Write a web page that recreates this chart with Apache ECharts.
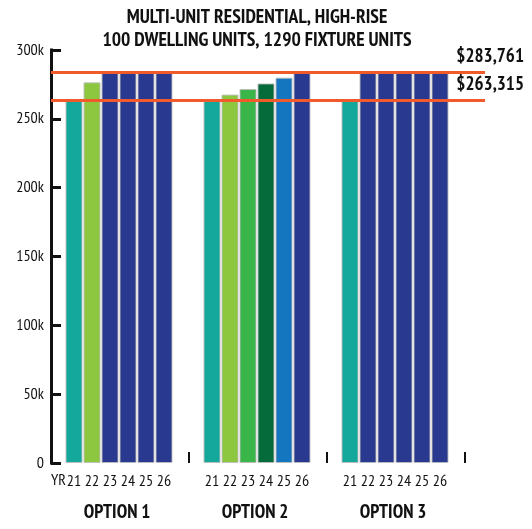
<!DOCTYPE html>
<html>
<head>
<meta charset="utf-8">
<script src="https://cdn.jsdelivr.net/npm/echarts@6/dist/echarts.min.js"></script>
<style>
  html, body { margin: 0; padding: 0; background: #ffffff; }
  #chart { width: 532px; height: 529px; }
</style>
</head>
<body>
<div id="chart"></div>
<script>
// Plan years shown under every option
const years = ['21', '22', '23', '24', '25', '26'];
const optionNames = ['OPTION 1', 'OPTION 2', 'OPTION 3'];

// Annual cost per option
const option1Values = [263315, 276500, 283761, 283761, 283761, 283761];
const option2Values = [263315, 267600, 271700, 275700, 279900, 283761];
const option3Values = [263315, 283761, 283761, 283761, 283761, 283761];

// Reference levels drawn across the chart
const upperLevel = 283761;
const lowerLevel = 263315;

// Y axis tick labels (0 .. 300k in 50k steps)
const yTickLabels = ['0', '50k', '100k', '150k', '200k', '250k', '300k'];

// Bar colours for each option, by year
const palette = {
  teal: '#14A89C',
  lime: '#8DC63F',
  green: '#3AB54A',
  forest: '#066B3A',
  blue: '#1376BF',
  navy: '#28398F'
};
const option1Colors = ['teal', 'lime', 'navy', 'navy', 'navy', 'navy'];
const option2Colors = ['teal', 'lime', 'green', 'forest', 'blue', 'navy'];
const option3Colors = ['teal', 'navy', 'navy', 'navy', 'navy', 'navy'];

const FONT = "'PT Sans Narrow', 'Roboto Condensed', 'Open Sans Condensed', sans-serif";
const INK = '#111111';

const groups = [
  { values: option1Values, colors: option1Colors },
  { values: option2Values, colors: option2Colors },
  { values: option3Values, colors: option3Colors }
];

const GROUP_PITCH = 138;  // px between option groups
const PLOT_TOP = 50;
const PLOT_HEIGHT = 413;
const FRAME_LEFT = 51;
const FRAME_WIDTH = 434;
const GROUP_LEFT = 65;
const GROUP_WIDTH = 108;

const money = v => '$' + Math.round(v).toLocaleString('en-US');

const grids = [{ left: FRAME_LEFT, top: PLOT_TOP, width: FRAME_WIDTH, height: PLOT_HEIGHT }];
const xAxes = [{
  gridIndex: 0,
  type: 'value',
  min: 0,
  max: FRAME_WIDTH / GROUP_PITCH,
  axisLine: { show: false },
  splitLine: { show: false },
  axisLabel: { show: false },
  axisTick: {
    show: true,
    inside: true,
    length: 11,
    customValues: [1, 2, 3],
    lineStyle: { width: 2, color: INK }
  }
}];
const yAxes = [{
  gridIndex: 0,
  type: 'value',
  min: 0,
  max: 300000,
  interval: 50000,
  axisLine: { show: true, lineStyle: { width: 3, color: INK, cap: 'square' } },
  axisTick: { show: true, inside: true, length: 10, lineStyle: { width: 3, color: INK } },
  splitLine: { show: false },
  axisLabel: {
    margin: 7,
    fontSize: 16,
    fontFamily: FONT,
    color: INK,
    formatter: (v, i) => yTickLabels[i]
  }
}];

const series = [{
  type: 'line',
  xAxisIndex: 0,
  yAxisIndex: 0,
  data: [],
  silent: true,
  markLine: {
    silent: true,
    symbol: 'none',
    animation: false,
    lineStyle: { color: '#F15A2B', width: 3, type: 'solid' },
    label: {
      show: true,
      position: 'insideEndTop',
      distance: [-39, 6],
      formatter: p => money(p.value),
      fontFamily: FONT,
      fontWeight: 'bold',
      fontSize: 19,
      color: INK
    },
    data: [{ yAxis: upperLevel }, { yAxis: lowerLevel }]
  }
}];

groups.forEach((g, i) => {
  const idx = i + 1;
  grids.push({ left: GROUP_LEFT + i * GROUP_PITCH, top: PLOT_TOP, width: GROUP_WIDTH, height: PLOT_HEIGHT });
  xAxes.push({
    gridIndex: idx,
    type: 'category',
    data: years,
    axisLine: { show: false },
    axisTick: { show: false },
    axisLabel: { interval: 0, margin: 10, fontSize: 16, fontFamily: FONT, color: INK },
    name: optionNames[i],
    nameLocation: 'middle',
    nameGap: 40,
    nameTextStyle: { fontFamily: FONT, fontWeight: 'bold', fontSize: 19, color: INK, padding: [0, 4, 0, 0] }
  });
  yAxes.push({ gridIndex: idx, type: 'value', min: 0, max: 300000, show: false });
  series.push({
    type: 'bar',
    xAxisIndex: idx,
    yAxisIndex: idx,
    barWidth: 17,
    animation: false,
    itemStyle: { borderColor: 'rgba(190,190,190,0.9)', borderWidth: 1 },
    data: g.values.map((v, j) => ({ value: v, itemStyle: { color: palette[g.colors[j]] } }))
  });
});

const chart = echarts.init(document.getElementById('chart'), null, { renderer: 'canvas' });
chart.setOption({
  animation: false,
  backgroundColor: '#ffffff',
  title: {
    text: 'MULTI-UNIT RESIDENTIAL, HIGH-RISE\n100 DWELLING UNITS, 1290 FIXTURE UNITS',
    left: 257,
    top: 6,
    padding: 0,
    textAlign: 'center',
    textStyle: { fontFamily: FONT, fontWeight: 'bold', fontSize: 19.5, lineHeight: 23, color: INK }
  },
  graphic: [{
    type: 'text',
    x: 51,
    y: 480,
    style: { text: 'YR', fontFamily: FONT, fontSize: 16, fill: INK, verticalAlign: 'middle' }
  }],
  grid: grids,
  xAxis: xAxes,
  yAxis: yAxes,
  series: series
});
</script>
</body>
</html>
